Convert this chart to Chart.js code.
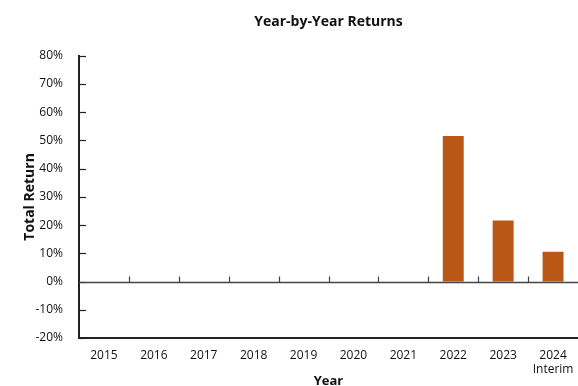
<!DOCTYPE html>
<html lang="en">
<head>
    <meta charset="UTF-8">
    <title>Year-by-Year Returns</title>
    <script src="https://cdn.jsdelivr.net/npm/chart.js"></script>
    <style>
        body { margin: 0; background: #fff; }
        #wrap { width: 578px; height: 386px; }
    </style>
</head>
<body>
    <div id="wrap"><canvas id="returnsChart" width="578" height="386"></canvas></div>

    <script>
        const years = ["2015", "2016", "2017", "2018", "2019", "2020", "2021", "2022", "2023", ["2024", "Interim"]];
        const totalReturns = [null, null, null, null, null, null, null, 51.6, 21.6, 10.6];
        const yMin = -20, yMax = 80, yStep = 10;

        const fontFamily = "'Open Sans', 'DejaVu Sans', sans-serif";
        const ctx = document.getElementById("returnsChart").getContext("2d");

        // ticks pointing inward + zero line, drawn through the chart's own scales
        const innerTicks = {
            id: "innerTicks",
            afterDatasetsDraw(chart) {
                const { ctx, scales: { x, y }, chartArea } = chart;
                ctx.save();
                ctx.strokeStyle = "#222";
                ctx.lineWidth = 1.2;
                y.ticks.forEach(t => {
                    const py = Math.round(y.getPixelForValue(t.value)) + 0.5;
                    ctx.beginPath();
                    ctx.moveTo(chartArea.left, py);
                    ctx.lineTo(chartArea.left + 7, py);
                    ctx.stroke();
                });
                const y0 = Math.round(y.getPixelForValue(0)) + 0.5;
                ctx.strokeStyle = "#444";
                ctx.lineWidth = 1.5;
                ctx.beginPath();
                ctx.moveTo(chartArea.left, y0);
                ctx.lineTo(chartArea.right, y0);
                ctx.stroke();
                ctx.lineWidth = 1.2;
                for (let i = 1; i < years.length; i++) {
                    const px = Math.round((x.getPixelForValue(i - 1) + x.getPixelForValue(i)) / 2) + 0.5;
                    ctx.beginPath();
                    ctx.moveTo(px, y0);
                    ctx.lineTo(px, y0 - 6);
                    ctx.stroke();
                }
                ctx.restore();
            }
        };

        new Chart(ctx, {
            type: "bar",
            data: {
                labels: years,
                datasets: [{
                    label: "Total Return",
                    data: totalReturns,
                    backgroundColor: "#B95716",
                    barPercentage: 0.42,
                    categoryPercentage: 1.0
                }]
            },
            options: {
                responsive: false,
                animation: false,
                layout: { padding: { left: 22, right: 0, top: 0, bottom: 0 } },
                plugins: {
                    legend: { display: false },
                    tooltip: { enabled: false },
                    title: {
                        display: true,
                        fullSize: false,
                        text: "Year-by-Year Returns",
                        color: "#111",
                        font: { family: fontFamily, size: 14, weight: "bold" },
                        padding: { top: 14, bottom: 25 }
                    }
                },
                scales: {
                    x: {
                        grid: { display: false },
                        border: { display: true, color: "#222", width: 2 },
                        ticks: {
                            color: "#111",
                            font: { family: fontFamily, size: 12 },
                            maxRotation: 0,
                            padding: 2
                        },
                        title: {
                            display: true,
                            text: "Year",
                            color: "#111",
                            font: { family: fontFamily, size: 13, weight: "bold" },
                            padding: { top: 0, bottom: -3 }
                        },
                        afterFit(scale) { scale.height = 48; }
                    },
                    y: {
                        min: yMin,
                        max: yMax,
                        grid: { display: false },
                        border: { display: true, color: "#222", width: 2 },
                        ticks: {
                            stepSize: yStep,
                            color: "#111",
                            font: { family: fontFamily, size: 12 },
                            padding: 8,
                            callback: v => v + "%"
                        },
                        title: {
                            display: true,
                            text: "Total Return",
                            color: "#111",
                            font: { family: fontFamily, size: 14, weight: "bold" },
                            padding: { top: 0, bottom: 0 }
                        },
                        afterFit(scale) { scale.width = 57; }
                    }
                }
            },
            plugins: [innerTicks]
        });
    </script>
</body>
</html>
